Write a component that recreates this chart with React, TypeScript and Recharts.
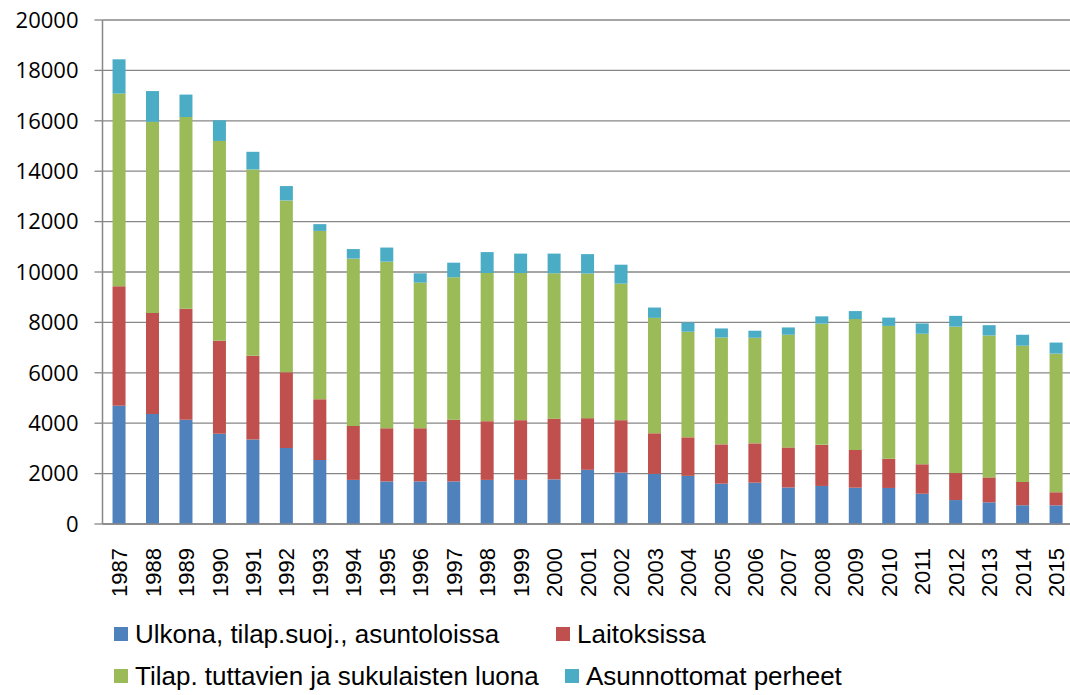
import { BarChart, Bar, XAxis, YAxis, CartesianGrid, Legend } from 'recharts';

const years = [
  '1987', '1988', '1989', '1990', '1991', '1992', '1993', '1994', '1995', '1996',
  '1997', '1998', '1999', '2000', '2001', '2002', '2003', '2004', '2005', '2006',
  '2007', '2008', '2009', '2010', '2011', '2012', '2013', '2014', '2015',
];

const ulkona = [
  4690, 4370, 4140, 3580, 3350, 3020, 2540, 1750, 1690, 1690,
  1690, 1750, 1750, 1770, 2150, 2040, 1990, 1910, 1600, 1640,
  1450, 1510, 1440, 1430, 1200, 950, 860, 740, 740,
];

const laitoksissa = [
  4740, 4000, 4400, 3690, 3330, 3000, 2410, 2140, 2110, 2110,
  2450, 2330, 2370, 2410, 2050, 2080, 1610, 1530, 1560, 1560,
  1590, 1630, 1500, 1160, 1170, 1070, 990, 930, 520,
];

const tuttavat = [
  7650, 7590, 7610, 7930, 7390, 6820, 6680, 6640, 6610, 5780,
  5650, 5880, 5840, 5770, 5740, 5420, 4580, 4190, 4240, 4190,
  4470, 4810, 5190, 5270, 5180, 5810, 5630, 5400, 5500,
];

const perheet = [
  1360, 1220, 890, 820, 700, 570, 270, 380, 560, 370,
  580, 830, 770, 780, 770, 750, 410, 370, 360, 280,
  290, 290, 320, 330, 410, 430, 410, 440, 440,
];

const yTicks = [0, 2000, 4000, 6000, 8000, 10000, 12000, 14000, 16000, 18000, 20000];

const data = years.map((year, i) => ({
  year,
  ulkona: ulkona[i],
  laitoksissa: laitoksissa[i],
  tuttavat: tuttavat[i],
  perheet: perheet[i],
}));

// category boundaries for the Excel-style tick marks between bars
const edgeTicks = [...years.map((_, i) => i), years.length];

const series = [
  { key: 'ulkona', name: 'Ulkona, tilap.suoj., asuntoloissa', color: '#4F81BD' },
  { key: 'laitoksissa', name: 'Laitoksissa', color: '#C0504D' },
  { key: 'tuttavat', name: 'Tilap. tuttavien ja sukulaisten luona', color: '#9BBB59' },
  { key: 'perheet', name: 'Asunnottomat perheet', color: '#4BACC6' },
];

const axisGray = '#878787';

// where each legend entry sits inside the legend box
const legendSlots = [
  { left: 114, top: 16 },
  { left: 556, top: 16 },
  { left: 114, top: 58 },
  { left: 565, top: 58 },
];

function YearTick({ x, y, payload }: any) {
  return (
    <g transform={`translate(${x},${y})`}>
      <text
        transform="rotate(-90)"
        x={-8}
        y={0}
        dy="0.36em"
        textAnchor="end"
        fill="#000"
        fontSize={22}
        fontFamily="'Liberation Sans', Arial, sans-serif"
      >
        {payload.value}
      </text>
    </g>
  );
}

function ChartLegend() {
  // keep the reference's reading order (Recharts reverses stacked payloads)
  return (
    <div style={{ position: 'relative', width: 1070, height: 90 }}>
      {series.map((s, i) => (
        <div
          key={s.key}
          style={{
            position: 'absolute',
            left: legendSlots[i].left,
            top: legendSlots[i].top,
            display: 'flex',
            alignItems: 'center',
            whiteSpace: 'nowrap',
            fontFamily: "'Liberation Sans', Arial, sans-serif",
            fontSize: 26,
            lineHeight: '26px',
            color: '#000',
          }}
        >
          <span style={{ width: 14, height: 14, background: s.color, marginRight: 7 }} />
          <span>{s.name}</span>
        </div>
      ))}
    </div>
  );
}

export default function App() {
  return (
    <div
      style={{
        position: 'absolute',
        left: 0,
        top: 0,
        width: 1070,
        height: 695,
        overflow: 'hidden',
        background: '#fff',
      }}
    >
      <BarChart
        width={1073}
        height={695}
        data={data}
        barCategoryGap="30%"
        margin={{ top: 20, right: 0, bottom: 3, left: 0 }}
      >
        <CartesianGrid vertical={false} stroke={axisGray} strokeWidth={1.3} />
        <XAxis
          xAxisId="years"
          dataKey="year"
          interval={0}
          height={70}
          axisLine={false}
          tickLine={false}
          tick={<YearTick />}
        />
        <XAxis
          xAxisId="base"
          type="number"
          domain={[0, years.length]}
          ticks={edgeTicks}
          allowDataOverflow
          tick={false}
          tickSize={6}
          height={8}
          axisLine={{ stroke: axisGray, strokeWidth: 1.5 }}
          tickLine={{ stroke: axisGray, strokeWidth: 1.3 }}
        />
        <YAxis
          width={102.5}
          domain={[0, 20000]}
          ticks={yTicks}
          interval={0}
          tickSize={8}
          tickMargin={16}
          axisLine={{ stroke: axisGray, strokeWidth: 1.5 }}
          tickLine={{ stroke: axisGray, strokeWidth: 1.3 }}
          tick={{ fill: '#000', fontSize: 22, fontFamily: "'Open Sans', sans-serif" }}
        />
        <Legend
          verticalAlign="bottom"
          content={<ChartLegend />}
          wrapperStyle={{ left: 0, top: 605, width: 1070, height: 90 }}
        />
        {series.map((s) => (
          <Bar
            key={s.key}
            xAxisId="years"
            dataKey={s.key}
            name={s.name}
            stackId="a"
            fill={s.color}
            isAnimationActive={false}
          />
        ))}
      </BarChart>
    </div>
  );
}
